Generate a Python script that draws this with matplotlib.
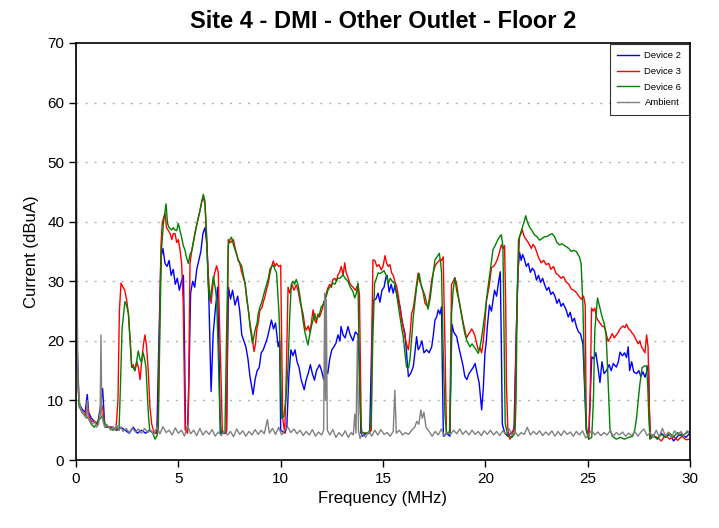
import matplotlib
matplotlib.use("Agg")
import matplotlib.pyplot as plt

plt.rcParams['font.family'] = ['Liberation Sans', 'DejaVu Sans']

title = "Site 4 - DMI - Other Outlet - Floor 2"
x_label = "Frequency (MHz)"
y_label = "Current (dBuA)"
series_names = ["Device 2", "Device 3", "Device 6", "Ambient"]
x_ticks = [0, 5, 10, 15, 20, 25, 30]
y_ticks = [0, 10, 20, 30, 40, 50, 60, 70]

# Device 2 (blue)
d2_pairs = [
    (0, 48), (0.05, 20), (0.15, 9.5), (0.3, 8.5), (0.45, 8), (0.55, 11), (0.62, 8), (0.75, 7), (0.9, 6.5),
    (1.05, 6), (1.2, 9), (1.3, 12), (1.4, 6), (1.6, 5.5), (1.8, 5.5), (2.0, 5), (2.2, 5.5), (2.4, 5),
    (2.6, 4.5), (2.8, 5.5), (3.0, 4.5), (3.2, 5), (3.4, 4.5), (3.6, 5), (3.8, 4.5), (3.95, 4.5),
    (4.05, 20), (4.15, 34), (4.25, 35.5), (4.35, 33), (4.45, 32.5), (4.55, 33.5), (4.65, 31), (4.75, 32),
    (4.85, 29.5), (4.95, 30.5), (5.05, 28.5), (5.15, 30), (5.25, 31), (5.3, 20), (5.35, 5), (5.45, 5),
    (5.52, 14), (5.6, 28), (5.7, 30), (5.8, 29), (5.9, 32), (6.0, 33.5), (6.1, 35), (6.2, 38), (6.3, 39),
    (6.4, 36), (6.5, 26), (6.6, 11.5), (6.7, 21), (6.8, 25), (6.92, 29), (7.0, 16), (7.05, 4.5),
    (7.2, 4.5), (7.35, 4.5), (7.45, 29), (7.55, 27), (7.65, 28.5), (7.77, 26), (7.9, 27.5), (8.0, 25),
    (8.1, 21), (8.2, 20), (8.3, 19), (8.4, 17), (8.5, 14), (8.6, 12), (8.65, 11), (8.75, 13.5),
    (8.85, 15), (8.95, 15.5), (9.05, 18), (9.15, 18.5), (9.25, 19.5), (9.35, 20.5), (9.45, 22),
    (9.55, 23.5), (9.65, 22), (9.75, 23), (9.88, 19), (9.95, 20), (10.0, 5), (10.2, 4.5), (10.3, 5.5),
    (10.4, 14), (10.5, 18.5), (10.6, 17.5), (10.7, 18.5), (10.8, 16.5), (10.9, 15.5), (11.0, 13.5),
    (11.15, 11.8), (11.25, 13.5), (11.35, 14.6), (11.45, 16), (11.55, 14.5), (11.65, 13.4), (11.75, 15),
    (11.9, 16), (12.0, 15), (12.1, 13.5), (12.2, 15.5), (12.3, 14.5), (12.4, 17), (12.5, 18.5),
    (12.6, 19), (12.7, 19.6), (12.8, 21), (12.9, 20), (12.95, 22.4), (13.05, 21), (13.15, 20.5),
    (13.29, 22.4), (13.4, 21), (13.53, 20), (13.65, 21.5), (13.78, 21), (13.85, 15), (13.92, 4.5),
    (14.0, 4), (14.2, 4.5), (14.35, 4.5), (14.45, 20), (14.52, 26.8), (14.65, 27), (14.76, 28),
    (14.85, 26.5), (14.95, 28.5), (15.05, 29), (15.14, 30.6), (15.2, 31), (15.3, 28.2), (15.4, 29.5),
    (15.5, 28), (15.58, 29.3), (15.7, 27.5), (15.83, 25.7), (15.95, 23), (16.07, 21.3), (16.15, 18),
    (16.24, 14), (16.35, 14.5), (16.48, 15.7), (16.56, 18), (16.64, 20.7), (16.72, 18.5), (16.8, 19),
    (16.9, 20), (17.0, 18), (17.13, 18.5), (17.25, 18), (17.38, 19), (17.46, 21), (17.54, 23.5),
    (17.62, 24), (17.7, 25.2), (17.78, 24.5), (17.86, 25.7), (17.9, 15), (17.95, 4), (18.1, 4.5),
    (18.27, 4), (18.32, 15), (18.37, 22.8), (18.45, 21.5), (18.6, 20.7), (18.7, 19), (18.8, 17.5),
    (18.9, 16), (19.0, 14), (19.1, 13.5), (19.2, 14.5), (19.3, 15), (19.4, 15.5), (19.5, 16.2),
    (19.6, 14.5), (19.7, 12.9), (19.82, 8.4), (19.9, 12), (19.98, 17.9), (20.05, 20), (20.1, 22.5),
    (20.2, 26), (20.3, 25), (20.45, 28.5), (20.55, 27.5), (20.65, 30), (20.73, 31.6), (20.78, 20),
    (20.83, 6), (20.95, 4.5), (21.1, 4), (21.25, 4.5), (21.4, 5), (21.5, 20), (21.6, 32), (21.67, 34.9),
    (21.75, 33.5), (21.82, 34.5), (21.9, 33.8), (22.0, 32.5), (22.1, 33), (22.2, 31.5), (22.3, 32.2),
    (22.4, 31.7), (22.5, 30.2), (22.6, 31), (22.7, 29.8), (22.8, 30.5), (22.9, 29.4), (23.0, 28.5),
    (23.1, 29), (23.2, 27.8), (23.3, 28.2), (23.4, 27.5), (23.5, 26.3), (23.6, 27), (23.7, 25.8),
    (23.8, 26.3), (23.95, 25.2), (24.05, 24), (24.15, 24.8), (24.25, 23.2), (24.35, 23.8), (24.45, 22.4),
    (24.55, 21.5), (24.65, 21.2), (24.77, 19.4), (24.85, 12), (24.93, 5), (25.05, 4), (25.12, 10),
    (25.2, 17.3), (25.3, 17), (25.4, 18), (25.5, 15.6), (25.6, 13), (25.7, 16.5), (25.8, 14.5),
    (25.92, 15), (26.05, 16), (26.15, 15), (26.25, 16.2), (26.4, 15.6), (26.5, 16.5), (26.58, 18.1),
    (26.7, 17.5), (26.8, 18), (26.9, 17.2), (26.98, 19), (27.05, 15), (27.15, 16.5), (27.25, 14.8),
    (27.39, 14.5), (27.5, 15), (27.6, 14), (27.7, 14.8), (27.8, 13.9), (27.9, 15), (27.97, 16),
    (28.04, 3.6), (28.2, 4.2), (28.4, 3.5), (28.6, 4.5), (28.8, 3.8), (29.0, 4.3), (29.2, 3.2),
    (29.4, 4), (29.6, 4.4), (29.8, 3.8), (30, 4.5),
]

# Device 3 (red)
d3_pairs = [
    (0, 45), (0.05, 18), (0.15, 9.5), (0.3, 8), (0.45, 7.5), (0.55, 9.5), (0.62, 7.5), (0.75, 6.5),
    (0.9, 6.5), (1.05, 6), (1.2, 8), (1.3, 9), (1.4, 6), (1.6, 5.5), (1.8, 5.5), (1.95, 5), (2.05, 10),
    (2.12, 25), (2.2, 29.7), (2.3, 29), (2.38, 28.5), (2.47, 27), (2.56, 24.6), (2.65, 20), (2.72, 15.6),
    (2.8, 16), (2.88, 15), (2.97, 16.5), (3.05, 15.5), (3.13, 13.5), (3.22, 17), (3.3, 19.5), (3.37, 21),
    (3.45, 19), (3.53, 15), (3.61, 9), (3.7, 6), (3.78, 5), (3.9, 4.5), (4.0, 5), (4.07, 20), (4.15, 36),
    (4.22, 40), (4.35, 41.4), (4.42, 39), (4.5, 38.6), (4.6, 38), (4.68, 37), (4.75, 38), (4.84, 38),
    (4.92, 36.5), (5.0, 37), (5.08, 35.3), (5.16, 33), (5.24, 26.3), (5.3, 12), (5.34, 5), (5.45, 4.5),
    (5.5, 10), (5.57, 33), (5.65, 35), (5.73, 36.5), (5.81, 38), (5.9, 39.5), (6.0, 41), (6.06, 41.9),
    (6.15, 43.5), (6.22, 44), (6.3, 43), (6.38, 37), (6.46, 31.4), (6.53, 28), (6.6, 26.3), (6.68, 29),
    (6.75, 31), (6.87, 32.6), (6.95, 31.5), (7.02, 22), (7.08, 14.6), (7.15, 4.6), (7.25, 4.5),
    (7.36, 5), (7.4, 20), (7.44, 37), (7.55, 36.5), (7.69, 37), (7.78, 35.5), (7.85, 34.6), (7.92, 33.5),
    (8.0, 33), (8.1, 31.5), (8.18, 30.5), (8.26, 29.7), (8.34, 27), (8.42, 25.2), (8.5, 23), (8.58, 21.3),
    (8.65, 19.5), (8.7, 18.2), (8.77, 19.5), (8.83, 21.8), (8.9, 23), (8.99, 25.2), (9.08, 25.5),
    (9.15, 26.5), (9.23, 27.4), (9.3, 28.5), (9.4, 29.8), (9.48, 31.4), (9.56, 32.5), (9.64, 33.4),
    (9.72, 32.5), (9.8, 33), (9.9, 32.5), (10.0, 32.7), (10.05, 20), (10.1, 7), (10.2, 4.5), (10.28, 15),
    (10.36, 29), (10.45, 28), (10.55, 29.5), (10.65, 28.5), (10.76, 29.4), (10.85, 28.5), (10.95, 26.5),
    (11.09, 24.6), (11.18, 22.5), (11.25, 21.8), (11.35, 22.5), (11.42, 21.5), (11.5, 23), (11.58, 25.2),
    (11.66, 23.5), (11.74, 23), (11.82, 24.5), (11.9, 24), (12.0, 25), (12.08, 26), (12.15, 26.9),
    (12.23, 28), (12.31, 28.9), (12.4, 29.5), (12.48, 29), (12.55, 30.3), (12.65, 30.5), (12.72, 30),
    (12.8, 31.1), (12.88, 31.5), (12.96, 32.5), (13.05, 31), (13.13, 33.1), (13.2, 31.5), (13.3, 30.5),
    (13.4, 29.5), (13.53, 29), (13.65, 28.5), (13.78, 29.5), (13.85, 27.8), (13.9, 15), (13.94, 4.7),
    (14.1, 4.5), (14.25, 4.5), (14.43, 5), (14.47, 25), (14.51, 33.6), (14.6, 33.5), (14.7, 32.5),
    (14.8, 32.8), (14.92, 31.9), (15.0, 32.5), (15.1, 34.3), (15.18, 33), (15.26, 32.5), (15.34, 32.8),
    (15.42, 31.4), (15.5, 31), (15.58, 30), (15.67, 29.1), (15.75, 27.5), (15.83, 25.7), (15.92, 23.5),
    (16.0, 22), (16.07, 20.7), (16.15, 19.5), (16.24, 18.5), (16.32, 21), (16.4, 24.6), (16.48, 25.5),
    (16.56, 27.4), (16.64, 29.5), (16.72, 31.4), (16.8, 30), (16.89, 29.1), (16.97, 28), (17.05, 26.3),
    (17.12, 26), (17.2, 25.7), (17.3, 28), (17.38, 30.2), (17.46, 31.5), (17.54, 32.5), (17.62, 33),
    (17.7, 33.3), (17.78, 33.6), (17.86, 33.5), (17.94, 34.1), (18.03, 19), (18.1, 4.6), (18.2, 4.5),
    (18.27, 5), (18.31, 20), (18.35, 29.5), (18.43, 30), (18.51, 30.6), (18.6, 29.5), (18.68, 27.5),
    (18.76, 26), (18.84, 24.6), (18.92, 23), (19.0, 21.8), (19.08, 20.5), (19.16, 21), (19.25, 21.5),
    (19.33, 22), (19.42, 21.5), (19.5, 20.7), (19.58, 19.5), (19.66, 18.5), (19.74, 18.8), (19.82, 18),
    (19.9, 20), (19.98, 23), (20.05, 26.6), (20.12, 28), (20.2, 29.5), (20.3, 32.3), (20.4, 32.5),
    (20.5, 33), (20.6, 33.8), (20.7, 35), (20.78, 36.1), (20.86, 35.5), (20.94, 36), (21.0, 25),
    (21.03, 13), (21.1, 5), (21.2, 3.5), (21.3, 4), (21.43, 6), (21.5, 19), (21.58, 30), (21.67, 37.5),
    (21.74, 38), (21.8, 38.7), (21.9, 37.5), (22.0, 37), (22.1, 36.5), (22.18, 36), (22.25, 35.5),
    (22.33, 36.2), (22.42, 35.8), (22.5, 35), (22.6, 34), (22.73, 33.1), (22.85, 33.5), (22.97, 32.8),
    (23.1, 33), (23.2, 32), (23.33, 32.5), (23.46, 31.3), (23.58, 31), (23.7, 30.5), (23.82, 30.8),
    (23.95, 29.9), (24.08, 29.5), (24.2, 28.7), (24.32, 28.5), (24.45, 28.1), (24.57, 27.5), (24.69, 27),
    (24.8, 27.5), (24.88, 26), (24.93, 5.6), (25.05, 3.5), (25.12, 10), (25.19, 25.5), (25.27, 25),
    (25.35, 25.5), (25.43, 24), (25.51, 23.4), (25.6, 23), (25.7, 22.5), (25.84, 22.3), (25.92, 21),
    (26.0, 19.9), (26.1, 20.5), (26.2, 21.2), (26.3, 20.5), (26.4, 21), (26.49, 21.4), (26.58, 22),
    (26.66, 22.3), (26.74, 22.5), (26.82, 22.2), (26.9, 22.8), (27.0, 22), (27.08, 21.8), (27.15, 21.4),
    (27.25, 21), (27.32, 20.5), (27.39, 20), (27.48, 19.5), (27.55, 20), (27.63, 19), (27.72, 18.5),
    (27.8, 18), (27.88, 21), (27.95, 19), (28.02, 8), (28.08, 3.6), (28.2, 4), (28.4, 3.8), (28.6, 3.2),
    (28.8, 4.2), (29.0, 3.5), (29.2, 3.9), (29.4, 3.3), (29.6, 4), (29.8, 3.4), (30, 3.5),
]

# Device 6 (green)
d6_pairs = [
    (0, 40), (0.05, 16), (0.15, 9), (0.3, 8), (0.45, 7.5), (0.6, 7), (0.75, 6), (0.9, 5.5), (1.05, 6.5),
    (1.2, 7), (1.3, 7.5), (1.45, 5.5), (1.6, 5.5), (1.8, 5), (2.0, 5.5), (2.1, 5), (2.15, 10), (2.25, 22),
    (2.39, 26.6), (2.47, 26), (2.56, 24.6), (2.64, 20), (2.72, 15.6), (2.8, 15.5), (2.88, 15),
    (2.96, 16.5), (3.04, 18.3), (3.12, 17), (3.2, 16.4), (3.28, 18), (3.35, 17), (3.42, 15.5),
    (3.49, 10.7), (3.55, 7), (3.6, 5), (3.75, 4.5), (3.86, 3.5), (3.95, 4), (4.02, 5), (4.1, 22),
    (4.17, 35), (4.27, 39.7), (4.4, 43), (4.47, 39.7), (4.55, 39), (4.67, 38.6), (4.75, 39), (4.84, 38.6),
    (4.92, 38.5), (5.0, 39.7), (5.08, 38.5), (5.16, 37.4), (5.24, 36), (5.32, 35.3), (5.4, 34),
    (5.49, 33), (5.57, 34.5), (5.65, 35), (5.73, 36.5), (5.81, 38), (5.9, 39.5), (6.0, 41), (6.06, 41.9),
    (6.15, 43.5), (6.22, 44.6), (6.3, 43.5), (6.38, 38), (6.46, 29.7), (6.53, 26.9), (6.6, 28),
    (6.71, 30.8), (6.8, 29), (6.87, 27), (6.95, 18), (7.03, 7), (7.1, 4.6), (7.2, 4.5), (7.28, 5),
    (7.36, 22), (7.44, 36), (7.52, 37), (7.6, 37.4), (7.7, 36), (7.8, 35), (7.93, 33.6), (8.02, 33),
    (8.1, 32.5), (8.18, 31), (8.26, 29.7), (8.34, 27.5), (8.42, 25.2), (8.5, 22.5), (8.56, 21),
    (8.62, 19.6), (8.68, 20.5), (8.75, 21.8), (8.85, 23), (8.9, 24.5), (8.99, 25.7), (9.08, 26.5),
    (9.15, 27.5), (9.23, 28.5), (9.32, 29.5), (9.4, 30.5), (9.48, 32.1), (9.56, 32.5), (9.64, 32.7),
    (9.72, 32), (9.8, 31.4), (9.86, 28), (9.92, 24.6), (10.0, 15), (10.05, 7), (10.15, 7.3), (10.25, 10),
    (10.36, 15.6), (10.44, 24), (10.52, 29.5), (10.6, 30), (10.68, 29.5), (10.76, 30.3), (10.84, 29.5),
    (10.92, 28), (11.0, 26), (11.09, 23.5), (11.18, 21.5), (11.25, 20.5), (11.33, 19.3), (11.42, 21),
    (11.5, 22.4), (11.58, 23.5), (11.66, 24.6), (11.74, 23.5), (11.82, 24), (11.9, 24.5), (11.98, 25.7),
    (12.06, 26), (12.15, 26.9), (12.23, 27.5), (12.31, 28.5), (12.4, 29), (12.48, 29.3), (12.55, 29.7),
    (12.65, 29.5), (12.72, 30), (12.8, 30.5), (12.9, 30.5), (13.04, 31.1), (13.15, 30.5), (13.29, 30),
    (13.4, 29), (13.53, 28.3), (13.62, 27.2), (13.7, 28), (13.78, 29.7), (13.84, 16), (13.9, 8),
    (13.96, 4.7), (14.1, 4.5), (14.3, 4.5), (14.42, 6), (14.5, 20), (14.59, 29.7), (14.68, 30.5),
    (14.76, 31.4), (14.85, 31.3), (14.95, 31.5), (15.05, 31.8), (15.15, 31), (15.26, 29.6), (15.35, 30.5),
    (15.45, 30), (15.58, 29.6), (15.7, 27), (15.83, 24), (15.92, 22), (15.99, 20.7), (16.07, 18),
    (16.15, 15.6), (16.25, 15.5), (16.32, 17), (16.4, 20.5), (16.48, 24), (16.56, 26.5), (16.64, 29),
    (16.72, 30.5), (16.77, 31.3), (16.85, 29.5), (16.95, 28.5), (17.05, 27.6), (17.12, 26.5),
    (17.2, 25.3), (17.3, 27), (17.38, 29.3), (17.46, 31.5), (17.54, 33.6), (17.62, 34), (17.75, 34.7),
    (17.82, 33), (17.86, 31.5), (17.94, 18.3), (18.03, 7.5), (18.1, 4.6), (18.25, 4.5), (18.3, 12),
    (18.35, 24.6), (18.43, 28.5), (18.51, 30.6), (18.6, 28.4), (18.7, 27), (18.8, 25), (18.9, 23),
    (19.0, 21.2), (19.1, 20), (19.25, 19), (19.35, 19.5), (19.45, 19), (19.55, 18.5), (19.66, 17.9),
    (19.74, 19), (19.82, 20.5), (19.9, 22.5), (19.98, 24.6), (20.06, 27), (20.15, 29.5), (20.25, 32),
    (20.37, 35.3), (20.48, 36), (20.6, 36.9), (20.7, 37.5), (20.78, 37.8), (20.86, 35.9), (20.92, 20),
    (20.97, 6.2), (21.1, 4), (21.3, 3.8), (21.45, 4.5), (21.5, 10), (21.56, 28), (21.62, 36.9),
    (21.72, 38), (21.84, 39.4), (21.9, 40), (21.97, 41), (22.05, 40), (22.16, 39.1), (22.28, 38.5),
    (22.4, 37.8), (22.52, 37.5), (22.65, 36.9), (22.78, 37.2), (22.9, 37.5), (23.02, 37.5), (23.14, 37.8),
    (23.26, 38), (23.38, 37.5), (23.5, 36.5), (23.63, 36.1), (23.75, 36.3), (23.85, 36), (23.96, 35.8),
    (24.08, 35.5), (24.2, 35), (24.32, 35.2), (24.45, 35), (24.52, 34.5), (24.6, 34.1), (24.68, 33),
    (24.77, 25.7), (24.84, 14.5), (24.95, 4.7), (25.05, 3.5), (25.2, 3.8), (25.28, 10), (25.35, 21.8),
    (25.48, 27.2), (25.58, 25.8), (25.7, 24.1), (25.8, 23), (25.9, 21), (25.97, 15.7), (26.09, 5.2),
    (26.2, 4), (26.4, 3.5), (26.6, 3.8), (26.8, 3.5), (27.0, 3.8), (27.2, 4), (27.3, 5), (27.39, 7.1),
    (27.47, 10), (27.55, 12.7), (27.66, 15.5), (27.78, 15.8), (27.88, 15.8), (27.94, 12), (27.99, 7),
    (28.05, 3.5), (28.2, 4.2), (28.4, 3.6), (28.6, 4.3), (28.8, 3.8), (29.0, 4.5), (29.2, 3.9),
    (29.4, 4.6), (29.6, 4), (29.8, 4.5), (30, 4.8),
]

# Ambient (gray)
amb_pairs = [
    (0, 70), (0.05, 30), (0.1, 12), (0.2, 9), (0.3, 8), (0.4, 7.5), (0.5, 7), (0.55, 10), (0.6, 7),
    (0.7, 6.5), (0.8, 6), (0.9, 6.5), (1.0, 5.5), (1.1, 6), (1.18, 8), (1.22, 21), (1.26, 8), (1.32, 6.5),
    (1.4, 5.5), (1.5, 6), (1.6, 5.5), (1.7, 5), (1.8, 5.5), (1.9, 5), (2.0, 5.8), (2.1, 5), (2.2, 5.5),
    (2.3, 4.8), (2.45, 5.3), (2.6, 4.6), (2.75, 5.4), (2.9, 4.7), (3.05, 5.2), (3.2, 4.5), (3.35, 5.3),
    (3.5, 4.6), (3.65, 5), (3.8, 4.3), (3.95, 5.5), (4.1, 4.4), (4.25, 5.6), (4.4, 4.6), (4.55, 5),
    (4.7, 4.2), (4.85, 5.4), (5.0, 4.5), (5.15, 5), (5.3, 4), (5.45, 5.8), (5.6, 4.4), (5.75, 5),
    (5.9, 4.1), (6.05, 5.3), (6.2, 4.2), (6.35, 4.9), (6.5, 4.3), (6.65, 5.1), (6.8, 4), (6.95, 4.7),
    (7.1, 4.1), (7.25, 5), (7.4, 4.2), (7.55, 4.8), (7.7, 3.9), (7.85, 5.2), (8.0, 4.3), (8.15, 4.9),
    (8.3, 4), (8.45, 4.8), (8.6, 4.2), (8.75, 5.1), (8.9, 4.3), (9.05, 5), (9.2, 4.4), (9.35, 6.8),
    (9.45, 4.5), (9.6, 5.3), (9.75, 4.3), (9.9, 5.5), (10.05, 4.2), (10.2, 5.1), (10.35, 5.5), (10.5, 4.6),
    (10.65, 5.2), (10.8, 4.4), (10.95, 5), (11.1, 4.1), (11.25, 4.8), (11.4, 4.2), (11.55, 5.1),
    (11.7, 4), (11.85, 4.7), (12.0, 4.2), (12.1, 5), (12.15, 28), (12.19, 10), (12.23, 27), (12.28, 5),
    (12.4, 4.2), (12.55, 5.1), (12.7, 3.8), (12.85, 4.6), (13.0, 4), (13.15, 4.9), (13.3, 3.8),
    (13.45, 4.6), (13.55, 4.2), (13.62, 7.7), (13.68, 4.5), (13.75, 20), (13.8, 5), (13.88, 3.6),
    (14.0, 4.5), (14.15, 3.8), (14.3, 4.8), (14.45, 4), (14.6, 5), (14.75, 4.2), (14.9, 5.1), (15.05, 4.3),
    (15.2, 4.6), (15.35, 4), (15.5, 4.8), (15.58, 11.7), (15.65, 4.5), (15.8, 5), (15.95, 4.2),
    (16.1, 4.6), (16.25, 4.3), (16.4, 5), (16.55, 5.5), (16.65, 6.5), (16.75, 6), (16.85, 8.4),
    (16.92, 7), (17.0, 8), (17.1, 5.5), (17.25, 4.8), (17.4, 4), (17.55, 4.8), (17.7, 4.2), (17.85, 5.2),
    (18.0, 4), (18.15, 4.6), (18.3, 4.3), (18.45, 5), (18.6, 4.4), (18.75, 5.2), (18.9, 4.3), (19.05, 4.9),
    (19.2, 4.2), (19.35, 5), (19.5, 4.3), (19.65, 4.8), (19.8, 4.1), (19.95, 4.9), (20.1, 4.3),
    (20.25, 5), (20.4, 4.2), (20.55, 4.8), (20.7, 4.1), (20.85, 4.9), (21.0, 4.4), (21.15, 5.3),
    (21.3, 4.2), (21.45, 4.8), (21.6, 4), (21.75, 4.6), (21.9, 4.3), (22.05, 5.5), (22.2, 4.2),
    (22.35, 4.8), (22.5, 4.3), (22.65, 4.9), (22.8, 4.1), (22.95, 4.7), (23.1, 4.2), (23.25, 4.9),
    (23.4, 4), (23.55, 4.8), (23.7, 4.1), (23.85, 4.9), (24.0, 4.3), (24.15, 4.7), (24.3, 4), (24.45, 4.8),
    (24.6, 4.2), (24.75, 4.9), (24.9, 3.7), (25.05, 4.3), (25.2, 5), (25.35, 4.2), (25.5, 4.7),
    (25.65, 4.1), (25.8, 4.6), (25.95, 4.2), (26.1, 4.9), (26.25, 4), (26.4, 4.6), (26.55, 4.2),
    (26.7, 4.7), (26.85, 4), (27.0, 4.5), (27.15, 4.1), (27.3, 4.8), (27.45, 4), (27.6, 4.7), (27.75, 5.2),
    (27.9, 4.1), (28.05, 4.6), (28.2, 3.8), (28.35, 5), (28.5, 3.9), (28.65, 5.3), (28.8, 4), (28.95, 4.7),
    (29.1, 3.8), (29.25, 4.9), (29.4, 4.1), (29.55, 4.8), (29.7, 4), (29.85, 4.9), (30, 4.3),
]

series_pairs = [d2_pairs, d3_pairs, d6_pairs, amb_pairs]
series_colors = ["#0000FF", "#FF0000", "#008000", "#808080"]

fig = plt.figure(figsize=(7.19, 5.28), dpi=100)
ax = fig.add_axes([76 / 719, 1 - 460 / 528, (690 - 76) / 719, (460 - 43) / 528])

for name, pairs, color in zip(series_names, series_pairs, series_colors):
    xs = [p[0] for p in pairs]
    ys = [p[1] for p in pairs]
    ax.plot(xs, ys, color=color, lw=1.0, label=name)

ax.set_xlim(0, 30)
ax.set_ylim(0, 70)
ax.set_xticks(x_ticks)
ax.set_yticks(y_ticks)
ax.tick_params(axis='both', direction='out', length=5, width=1, labelsize=11, colors='black')
for sp in ax.spines.values():
    sp.set_linewidth(1.2)
    sp.set_color('black')

for yv in y_ticks[1:-1]:
    ax.axhline(yv, color='#b0b0b0', lw=1.0, linestyle=(0, (1.5, 5)), zorder=0)

ax.set_xlabel(x_label, fontsize=12, labelpad=4)
ax.set_ylabel(y_label, fontsize=12, labelpad=6)
ax.set_title(title, fontsize=17, fontweight='bold', pad=11)

leg = ax.legend(loc='upper right', fontsize=6.8, frameon=True, fancybox=False, edgecolor='black',
                borderaxespad=0.1, handlelength=2.3, handletextpad=0.6, labelspacing=0.7,
                borderpad=0.8)
leg.get_frame().set_linewidth(0.8)

fig.savefig("out.png", dpi=100)
